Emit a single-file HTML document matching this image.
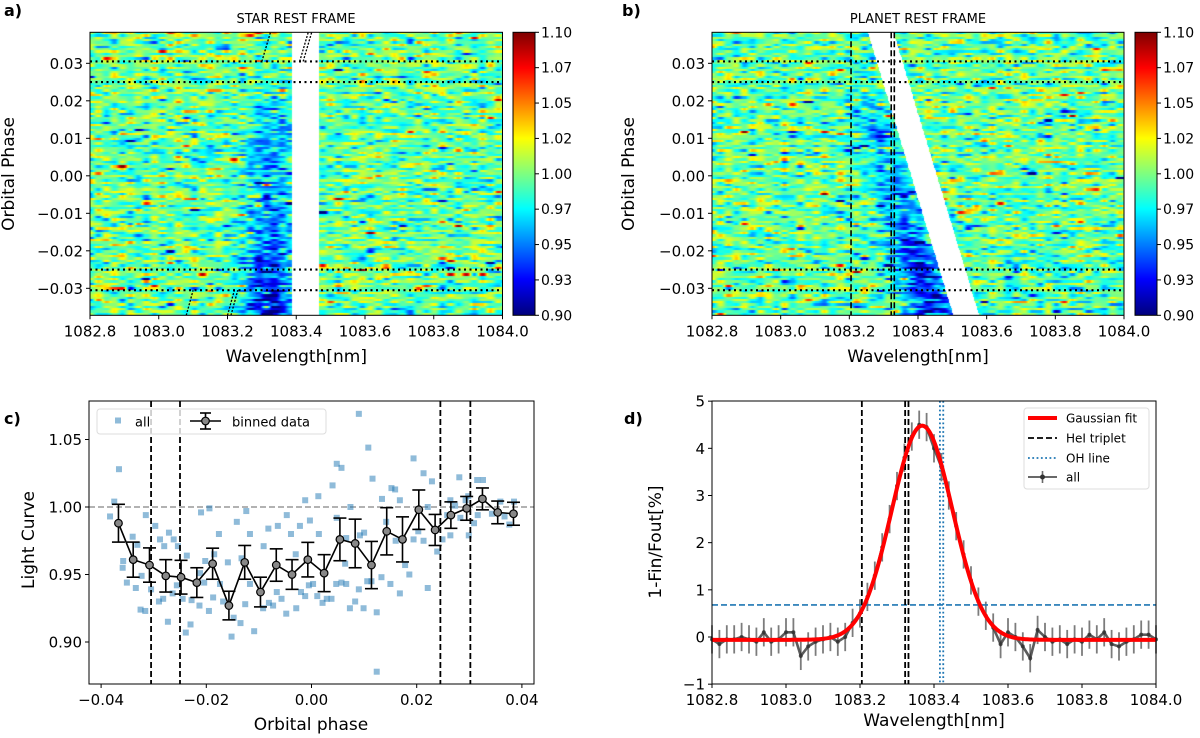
<!DOCTYPE html>
<html><head><meta charset="utf-8">
<style>
html,body{margin:0;padding:0;background:#fff;}
#wrap{position:relative;width:1200px;height:738px;overflow:hidden;font-family:"Liberation Sans",sans-serif;}
canvas{position:absolute;}
svg{position:absolute;left:0;top:0;}
text{font-family:"DejaVu Sans","Liberation Sans",sans-serif;fill:#000;}
</style></head>
<body>
<div id="wrap">
<canvas id="hmA" width="413" height="283" style="left:90px;top:32px"></canvas>
<canvas id="hmB" width="412" height="283" style="left:712px;top:32px"></canvas>
<canvas id="cbA" width="22" height="283" style="left:513px;top:32px"></canvas>
<canvas id="cbB" width="22" height="283" style="left:1135px;top:32px"></canvas>
<svg id="svg" width="1200" height="738"></svg>
</div>
<script>
// ---------- Panel c data ----------
const binPhase = [-0.0367,-0.0339,-0.0308,-0.0277,-0.0248,-0.0218,-0.0188,-0.0157,-0.0127,-0.0097,-0.0067,-0.0037,-0.0007,0.0024,0.0054,0.0083,0.0114,0.0143,0.0173,0.0204,0.0235,0.0265,0.0295,0.0325,0.0354,0.0384];
const binValue = [0.988,0.961,0.957,0.949,0.948,0.944,0.958,0.927,0.959,0.937,0.957,0.950,0.961,0.951,0.976,0.973,0.957,0.982,0.976,0.998,0.983,0.994,0.999,1.006,0.996,0.995];
const binErr = [0.014,0.013,0.0127,0.012,0.0125,0.011,0.0115,0.0106,0.0125,0.011,0.012,0.011,0.0128,0.0137,0.0158,0.018,0.0175,0.0175,0.0167,0.0146,0.0115,0.0098,0.0088,0.0081,0.0084,0.0085];
const allPhase = [-0.0366,-0.0375,-0.0383,-0.0358,-0.0359,-0.0340,-0.0331,-0.0351,-0.0334,-0.0323,-0.0325,-0.0316,-0.0315,-0.0297,-0.0305,-0.0288,-0.0280,-0.0271,-0.0262,-0.0254,-0.0282,-0.0290,-0.0273,-0.0264,-0.0256,-0.0245,-0.0237,-0.0239,-0.0230,-0.0228,-0.0212,-0.0213,-0.0210,-0.0194,-0.0202,-0.0204,-0.0195,-0.0185,-0.0187,-0.0176,-0.0174,-0.0168,-0.0159,-0.0152,-0.0148,-0.0142,-0.0135,-0.0133,-0.0124,-0.0126,-0.0117,-0.0117,-0.0109,-0.0091,-0.0092,-0.0082,-0.0081,-0.0073,-0.0064,-0.0066,-0.0057,-0.0047,-0.0048,-0.0039,-0.0030,-0.0029,-0.0022,-0.0020,-0.0012,-0.0012,-0.0003,-0.0005,0.0003,0.0013,0.0014,0.0011,0.0021,0.0029,0.0038,0.0040,0.0048,0.0057,0.0048,0.0047,0.0057,0.0066,0.0066,0.0064,0.0074,0.0073,0.0083,0.0090,0.0092,0.0090,0.0100,0.0099,0.0108,0.0116,0.0106,0.0114,0.0124,0.0134,0.0133,0.0124,0.0142,0.0152,0.0159,0.0160,0.0150,0.0168,0.0168,0.0178,0.0186,0.0194,0.0194,0.0203,0.0213,0.0221,0.0213,0.0221,0.0229,0.0239,0.0249,0.0258,0.0264,0.0264,0.0273,0.0281,0.0283,0.0293,0.0299,0.0298,0.0309,0.0315,0.0326,0.0316,0.0343,0.0359,0.0367,0.0376,0.0385];
const allValue = [1.028,1.004,0.993,0.960,0.955,0.978,0.972,0.944,0.940,0.949,0.924,0.923,0.994,0.986,0.939,0.976,0.971,0.981,0.976,0.971,0.932,0.930,0.915,0.936,0.942,0.932,0.964,0.907,0.913,0.931,0.951,0.927,0.996,0.999,0.960,0.944,0.923,0.965,0.933,0.980,0.943,0.930,0.959,0.904,0.918,0.989,0.914,0.962,0.997,0.928,0.980,0.943,0.908,0.971,0.925,0.984,0.929,0.927,0.986,0.937,0.932,0.994,0.921,0.980,0.965,0.925,0.986,0.937,1.005,0.934,0.990,0.942,0.943,1.008,0.980,0.934,0.929,0.932,0.932,1.016,1.032,1.029,0.992,0.943,0.944,0.943,0.977,0.958,1.000,0.925,0.930,1.069,0.979,0.939,0.981,0.925,1.044,1.021,0.945,0.945,0.922,1.006,0.948,0.878,0.989,1.014,1.013,0.975,0.943,1.005,0.936,0.957,0.950,1.036,0.976,0.982,0.975,0.940,1.025,1.000,1.019,0.967,0.976,0.994,1.005,0.979,1.001,1.022,0.992,1.005,0.979,1.008,0.988,1.020,1.020,0.994,0.995,1.004,0.993,0.987,1.004];
const transitPhases = [-0.0305,-0.025,0.0245,0.0302];
const cXTicks = [-0.04,-0.02,0.00,0.02,0.04];
const cXTickLabels = ["\u22120.04","\u22120.02","0.00","0.02","0.04"];
const cYTicks = [0.90,0.95,1.00,1.05];
const cYTickLabels = ["0.90","0.95","1.00","1.05"];
// ---------- Panel d data ----------
const dWave = [];
for (let i=0;i<=60;i++) dWave.push(+(1082.80+0.02*i).toFixed(2));
const dAbs = [-0.05,-0.15,-0.05,-0.05,0.0,-0.05,-0.1,0.1,-0.1,-0.05,0.1,0.1,-0.4,-0.2,-0.1,-0.05,0.0,-0.1,0.0,0.3,0.5,0.85,1.3,1.9,2.5,3.2,3.8,4.25,4.5,4.45,4.0,3.6,3.0,2.35,1.75,1.2,0.75,0.45,0.2,-0.15,0.1,0.0,-0.2,-0.45,0.15,0.0,-0.1,-0.05,-0.15,-0.05,-0.1,0.05,-0.05,0.1,-0.15,-0.2,-0.1,-0.05,0.05,0.05,-0.05];
const dErr = 0.3;
const gaussParams = [4.54, 1083.368, 0.082, -0.06]; // amplitude, center, sigma, offset
const heLines = [1083.205,1083.322,1083.331];
const ohLines = [1083.416,1083.425];
const threshold = 0.68;
const dXTicks = [1082.8,1083.0,1083.2,1083.4,1083.6,1083.8,1084.0];
const dXTickLabels = ["1082.8","1083.0","1083.2","1083.4","1083.6","1083.8","1084.0"];
const dYTicks = [-1,0,1,2,3,4,5];
const dYTickLabels = ["\u22121","0","1","2","3","4","5"];
// ---------- Panels a/b ----------
const hmPhaseTicks = [-0.03,-0.02,-0.01,0.00,0.01,0.02,0.03];
const hmPhaseLabels = ["\u22120.03","\u22120.02","\u22120.01","0.00","0.01","0.02","0.03"];
const cbTicks = [0.90,0.925,0.95,0.975,1.00,1.025,1.05,1.075,1.10];
const cbLabels = ["0.90","0.93","0.95","0.97","1.00","1.02","1.05","1.07","1.10"];
const dottedPhases = [0.0305,0.025,-0.025,-0.0305];

const NS="http://www.w3.org/2000/svg";
const svg=document.getElementById('svg');
function el(tag,attrs,parent){const e=document.createElementNS(NS,tag);for(const k in attrs)e.setAttribute(k,attrs[k]);(parent||svg).appendChild(e);return e;}
function txt(x,y,s,size,anchor,extra){const t=el('text',Object.assign({x:x,y:y,'font-size':size,'text-anchor':anchor||'middle'},extra||{}));t.textContent=s;return t;}

const aX = l => 90+(l-1082.8)/1.2*412.5;
const bX = l => 712+(l-1082.8)/1.2*412;
const hY = p => 32.3+(0.03827-p)*3750;
const cX = p => 89+(p+0.0423)/0.0846*445;
const cY = v => 507-(v-1.0)*1350;
const dX = l => 712+(l-1082.8)/1.2*444;
const dY = v => 637-v*47.17;

function jet(v){v=Math.max(0,Math.min(1,v));
 const r=Math.max(0,Math.min(1,Math.min(4*v-1.5,-4*v+4.5)));
 const g=Math.max(0,Math.min(1,Math.min(4*v-0.5,-4*v+3.5)));
 const b=Math.max(0,Math.min(1,Math.min(4*v+0.5,-4*v+2.5)));
 return [r*255,g*255,b*255];}
function rng(seed){return function(){seed|=0;seed=seed+0x6D2B79F5|0;let t=Math.imul(seed^seed>>>15,1|seed);t=t+Math.imul(t^t>>>7,61|t)^t;return((t^t>>>14)>>>0)/4294967296;};}
function drawHeat(id,X,seed,frame){
 const cv=document.getElementById(id),ctx=cv.getContext('2d'),W=cv.width,H=cv.height;
 const img=ctx.createImageData(W,H);const R=rng(seed);
 const rowH=2.3,nRows=Math.ceil(H/rowH);
 for(let r=0;r<nRows;r++){
  const knots=[];const sp=8;for(let k=0;k<=W/sp+2;k++){let g=(R()+R()+R()-1.5)*0.042;if(R()<0.06)g*=2.2;knots.push(g);}
  const phi=0.03827-(r*rowH+rowH/2)/3750;
  let band;
  if(frame==='star'){band=[1083.386,1083.465];}
  else{const c=1083.42-3.3*phi;band=[c-0.04,c+0.035];}
  const fade=phi<0.015?1:(phi<0.024?(0.024-phi)/0.009:0);
  const depth=(0.035+Math.max(0,-phi)*1.0)*fade;
  const ac=frame==='star'?1083.325:band[0]-0.06;
  const rowOff=(R()-0.5)*0.01;
  for(let x=0;x<W;x++){
   const lam=1082.8+(x+0.5)/W*1.2;
   const kf=x/sp,ki=Math.floor(kf),t=kf-ki,s=(1-Math.cos(t*Math.PI))/2;
   let v=0.995+rowOff+knots[ki]*(1-s)+knots[ki+1]*s;
   v-=depth*Math.exp(-Math.pow(lam-ac,2)/(2*0.05*0.05));
   const white=lam>=band[0]&&lam<=band[1];
   for(let yy=Math.round(r*rowH);yy<Math.min(H,Math.round((r+1)*rowH));yy++){
    const i=(yy*W+x)*4;
    if(white){img.data[i]=img.data[i+1]=img.data[i+2]=255;}
    else{const c=jet((v-0.9)/0.2);img.data[i]=c[0];img.data[i+1]=c[1];img.data[i+2]=c[2];}
    img.data[i+3]=255;}
  }
 }
 ctx.putImageData(img,0,0);
}
drawHeat('hmA',aX,12345,'star');
drawHeat('hmB',bX,67890,'planet');
['cbA','cbB'].forEach(id=>{const cv=document.getElementById(id),ctx=cv.getContext('2d');
 for(let y=0;y<cv.height;y++){const c=jet(1-y/(cv.height-1));ctx.fillStyle=`rgb(${c[0]|0},${c[1]|0},${c[2]|0})`;ctx.fillRect(0,y,cv.width,1);}});

function heatPanel(X,left,right,cbL,label,title,titleX,ylabX,isB){
 const top=32.3,bot=315.3;
 dottedPhases.forEach(p=>{const l=el('line',{x1:left,x2:right,y1:hY(p),y2:hY(p),stroke:'#000','stroke-width':2.2,'stroke-dasharray':'2 3.5'});
  });
 if(isB){heLines.forEach(w=>{const l=el('line',{x1:X(w),x2:X(w),y1:top,y2:bot,stroke:'#000','stroke-width':1.6,'stroke-dasharray':'6 3'});
  });}
 else{
  [[1083.30,0.0305,1083.325,0.0383],[1083.41,0.0305,1083.435,0.0383],[1083.42,0.0305,1083.445,0.0383],[1083.08,-0.0372,1083.10,-0.0305],[1083.20,-0.0372,1083.22,-0.0305],[1083.21,-0.0372,1083.23,-0.0305]].forEach(s=>{
   const l=el('line',{x1:X(s[0]),y1:hY(s[1]),x2:X(s[2]),y2:hY(s[3]),stroke:'#000','stroke-width':1.3,'stroke-dasharray':'2 1.5'});
   });
 }
 el('rect',{x:left,y:top,width:right-left,height:bot-top,fill:'none',stroke:'#000','stroke-width':1});
 el('rect',{x:cbL,y:top,width:22,height:bot-top,fill:'none',stroke:'#000','stroke-width':1});
 hmPhaseTicks.forEach((p,i)=>{el('line',{x1:left-4,x2:left,y1:hY(p),y2:hY(p),stroke:'#000'});
  const t=txt(left-7,hY(p)+5.5,hmPhaseLabels[i],15,'end');});
 dXTicks.forEach((w,i)=>{el('line',{x1:X(w),x2:X(w),y1:bot,y2:bot+4,stroke:'#000'});
  const t=txt(X(w),bot+21,dXTickLabels[i],15);});
 cbTicks.forEach((v,i)=>{const y=bot-(v-0.9)/0.2*(bot-top);el('line',{x1:cbL+22,x2:cbL+26,y1:y,y2:y,stroke:'#000'});
  const t=txt(cbL+28,y+5,cbLabels[i],14,'start');});
 let t=txt((left+right)/2,362,'Wavelength[nm]',17);
 t=txt(ylabX,174,'Orbital Phase',17,'middle',{transform:`rotate(-90 ${ylabX} 174)`});
 t=txt(titleX,23,title,13);
 t=txt(label[1],16,label[0],16,'start',{'font-weight':'bold'});
}
heatPanel(aX,90,502.5,513,['a)',4],'STAR REST FRAME',296,14,false);
heatPanel(bX,712,1124,1135,['b)',622],'PLANET REST FRAME',918,634,true);

// ---------- Panel c ----------
(function(){
 const L=89,R=534,T=401,B=684;
 el('line',{x1:L,x2:R,y1:cY(1.0),y2:cY(1.0),stroke:'#999','stroke-width':1.6,'stroke-dasharray':'6 3'});
 allPhase.forEach((p,i)=>{const r=el('rect',{x:cX(p)-3,y:cY(allValue[i])-3,width:6,height:6,fill:'#1f77b4','fill-opacity':0.5});
  });
 transitPhases.forEach(p=>{const l=el('line',{x1:cX(p),x2:cX(p),y1:T,y2:B,stroke:'#000','stroke-width':1.8,'stroke-dasharray':'6 3'});
  });
 binPhase.forEach((p,i)=>{const x=cX(p),y1=cY(binValue[i]+binErr[i]),y2=cY(binValue[i]-binErr[i]);
  const g=el('g',{});
  el('line',{x1:x,x2:x,y1:y1,y2:y2,stroke:'#000','stroke-width':1.6},g);
  el('line',{x1:x-6.5,x2:x+6.5,y1:y1,y2:y1,stroke:'#000','stroke-width':1.6},g);
  el('line',{x1:x-6.5,x2:x+6.5,y1:y2,y2:y2,stroke:'#000','stroke-width':1.6},g);});
 const pl=el('polyline',{points:binPhase.map((p,i)=>cX(p)+','+cY(binValue[i])).join(' '),fill:'none',stroke:'#000','stroke-width':1.6});
 
 binPhase.forEach((p,i)=>{const c=el('circle',{cx:cX(p),cy:cY(binValue[i]),r:3.8,fill:'#888',stroke:'#000','stroke-width':1.2});
  });
 el('rect',{x:L,y:T,width:R-L,height:B-T,fill:'none',stroke:'#000','stroke-width':1});
 cXTicks.forEach((p,i)=>{el('line',{x1:cX(p),x2:cX(p),y1:B,y2:B+4,stroke:'#000'});
  const t=txt(cX(p),B+21,cXTickLabels[i],15);});
 cYTicks.forEach((v,i)=>{el('line',{x1:L-4,x2:L,y1:cY(v),y2:cY(v),stroke:'#000'});
  const t=txt(L-7,cY(v)+5.5,cYTickLabels[i],15,'end');});
 let t=txt(311,730,'Orbital phase',17);
 t=txt(34,540,'Light Curve',17,'middle',{transform:'rotate(-90 34 540)'});
 t=txt(4,424,'c)',16,'start',{'font-weight':'bold'});
 const lg=el('g',{});
 el('rect',{x:97,y:409,width:229,height:25,fill:'#fff','fill-opacity':0.8,stroke:'#ddd',rx:3},lg);
 el('rect',{x:115,y:417.5,width:6,height:6,fill:'#1f77b4','fill-opacity':0.5},lg);
 lg.appendChild(txt(135,426.5,'all',13,'start'));
 el('line',{x1:190,x2:221,y1:421,y2:421,stroke:'#000','stroke-width':1.6},lg);
 el('line',{x1:205.5,x2:205.5,y1:413,y2:429,stroke:'#000','stroke-width':1.6},lg);
 el('line',{x1:200,x2:211,y1:413,y2:413,stroke:'#000','stroke-width':1.6},lg);
 el('line',{x1:200,x2:211,y1:429,y2:429,stroke:'#000','stroke-width':1.6},lg);
 el('circle',{cx:205.5,cy:421,r:3.8,fill:'#888',stroke:'#000','stroke-width':1.2},lg);
 lg.appendChild(txt(232,426.5,'binned data',13,'start'));
})();

// ---------- Panel d ----------
(function(){
 const L=712,R=1156,T=401,B=684;
 const g=el('g',{});
 dWave.forEach((w,i)=>{el('line',{x1:dX(w),x2:dX(w),y1:dY(dAbs[i]+dErr),y2:dY(dAbs[i]-dErr),stroke:'#444','stroke-opacity':0.7,'stroke-width':1.8},g);
  el('circle',{cx:dX(w),cy:dY(dAbs[i]),r:2,fill:'#333','fill-opacity':0.8},g);});
 el('polyline',{points:dWave.map((w,i)=>dX(w)+','+dY(dAbs[i])).join(' '),fill:'none',stroke:'#333','stroke-opacity':0.8,'stroke-width':2.6},g);
 el('line',{x1:L,x2:R,y1:dY(threshold),y2:dY(threshold),stroke:'#1f77b4','stroke-width':1.6,'stroke-dasharray':'6 3'});
 heLines.forEach(w=>{const l=el('line',{x1:dX(w),x2:dX(w),y1:T,y2:B,stroke:'#000','stroke-width':1.8,'stroke-dasharray':'6 3'});
  });
 ohLines.forEach(w=>{const l=el('line',{x1:dX(w),x2:dX(w),y1:T,y2:B,stroke:'#1f77b4','stroke-width':1.8,'stroke-dasharray':'1.8 2.5'});
  });
 const pts=[];for(let k=0;k<=300;k++){const w=1082.8+1.2*k/300;const v=gaussParams[3]+gaussParams[0]*Math.exp(-Math.pow(w-gaussParams[1],2)/(2*gaussParams[2]*gaussParams[2]));pts.push(dX(w)+','+dY(v));}
 const gl=el('polyline',{points:pts.join(' '),fill:'none',stroke:'#f00','stroke-width':4});
 
 el('rect',{x:L,y:T,width:R-L,height:B-T,fill:'none',stroke:'#000','stroke-width':1});
 dXTicks.forEach((w,i)=>{el('line',{x1:dX(w),x2:dX(w),y1:B,y2:B+4,stroke:'#000'});
  const t=txt(dX(w),B+21,dXTickLabels[i],15);});
 dYTicks.forEach((v,i)=>{el('line',{x1:L-4,x2:L,y1:dY(v),y2:dY(v),stroke:'#000'});
  const t=txt(L-7,dY(v)+5.5,dYTickLabels[i],15,'end');});
 let t=txt(934,726,'Wavelength[nm]',17);
 t=txt(661,542,'1-Fin/Fout[%]',17,'middle',{transform:'rotate(-90 661 542)'});
 t=txt(624,424,'d)',16,'start',{'font-weight':'bold'});
 const lg=el('g',{});
 el('rect',{x:1024,y:408,width:125,height:81,fill:'#fff','fill-opacity':0.85,stroke:'#ddd',rx:3},lg);
 el('line',{x1:1028,x2:1057,y1:418,y2:418,stroke:'#f00','stroke-width':4},lg);
 lg.appendChild(txt(1066,422.5,'Gaussian fit',12,'start'));
 el('line',{x1:1028,x2:1057,y1:438,y2:438,stroke:'#000','stroke-width':1.8,'stroke-dasharray':'6 3'},lg);
 lg.appendChild(txt(1066,442.5,'HeI triplet',12,'start'));
 el('line',{x1:1028,x2:1057,y1:458,y2:458,stroke:'#1f77b4','stroke-width':1.8,'stroke-dasharray':'1.8 2.5'},lg);
 lg.appendChild(txt(1066,462.5,'OH line',12,'start'));
 el('line',{x1:1028,x2:1057,y1:477,y2:477,stroke:'#444','stroke-opacity':0.8,'stroke-width':2},lg);
 el('line',{x1:1042.5,x2:1042.5,y1:471,y2:483,stroke:'#444','stroke-opacity':0.8,'stroke-width':1.6},lg);
 el('circle',{cx:1042.5,cy:477,r:2.5,fill:'#333'},lg);
 lg.appendChild(txt(1066,481.5,'all',12,'start'));
})();
</script>
</body></html>
